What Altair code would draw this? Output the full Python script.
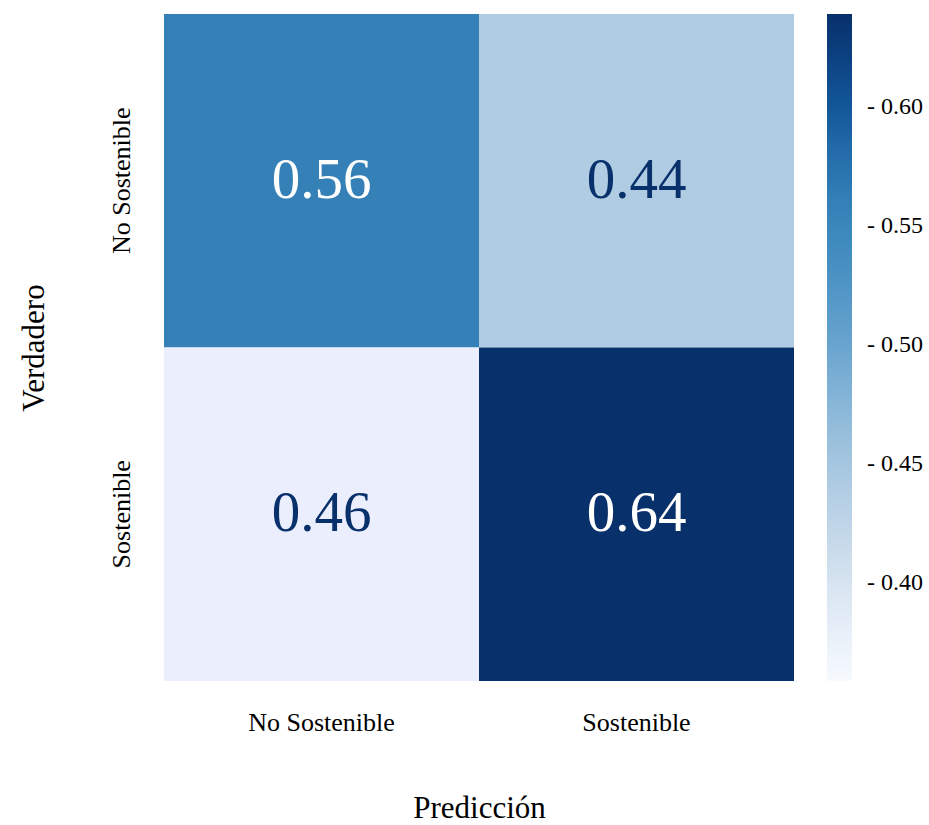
import altair as alt
import numpy as np
import pandas as pd

pred = ["No Sostenible", "Sostenible", "No Sostenible", "Sostenible"]
true = ["No Sostenible", "No Sostenible", "Sostenible", "Sostenible"]
values = [0.56, 0.44, 0.46, 0.64]
# lower-left cell is drawn in a pale lavender override in the reference
override = [False, False, True, False]

df = pd.DataFrame({"pred": pred, "true": true, "value": values, "override": override})
df["label"] = df["value"].map(lambda v: f"{v:.2f}")

cmin, cmax = 0.359, 0.639
blues = ['#f7fbff', '#dce7f3', '#bcd3e6', '#96bedb', '#6aa5cf',
         '#4690c2', '#2e7ab3', '#0f5296', '#08306b']
dom = list(np.linspace(cmin, cmax, len(blues)))

FONT = "Liberation Serif"
order = ["No Sostenible", "Sostenible"]

x = alt.X("pred:N", sort=order, title="Predicción",
          axis=alt.Axis(labelAngle=0, ticks=False, domain=False, labelFontSize=26,
                        labelPadding=28, titleFontSize=31, titlePadding=58,
                        labelFont=FONT, titleFont=FONT, labelColor="black",
                        titleColor="black", titleFontWeight="normal"))
y = alt.Y("true:N", sort=order, title="Verdadero",
          axis=alt.Axis(labelAngle=270, ticks=False, domain=False, labelFontSize=26,
                        labelPadding=43, titleFontSize=31, titlePadding=58,
                        labelFont=FONT, titleFont=FONT, labelColor="black",
                        titleColor="black", titleFontWeight="normal",
                        labelBaseline="middle"))

base = alt.Chart(df).encode(x=x, y=y)

rects = base.mark_rect().encode(
    color=alt.Color("value:Q",
                    scale=alt.Scale(domain=dom, range=blues, interpolate="rgb", clamp=True),
                    legend=alt.Legend(title=None, gradientLength=667, gradientThickness=25,
                                      values=[0.40, 0.45, 0.50, 0.55, 0.60],
                                      labelExpr="'- ' + format(datum.value, '.2f')",
                                      labelFontSize=24, labelFont=FONT, labelColor="black",
                                      labelOffset=15, offset=33, direction="vertical",
                                      gradientStrokeWidth=0))
)

lav = base.transform_filter("datum.override").mark_rect(color="#ebeffd")

texts = base.mark_text(font=FONT, fontSize=57).encode(
    text="label:N",
    color=alt.condition("datum.value > 0.5", alt.value("#ffffff"), alt.value("#08306b")),
)

chart = alt.layer(rects, lav, texts).properties(
    width=630, height=667,
    autosize=alt.AutoSizeParams(type="none"),
    padding={"left": 164, "top": 14, "right": 135, "bottom": 144},
).configure_view(stroke=None)

chart.save("out.html", embed_options={"renderer": "svg", "actions": False})
